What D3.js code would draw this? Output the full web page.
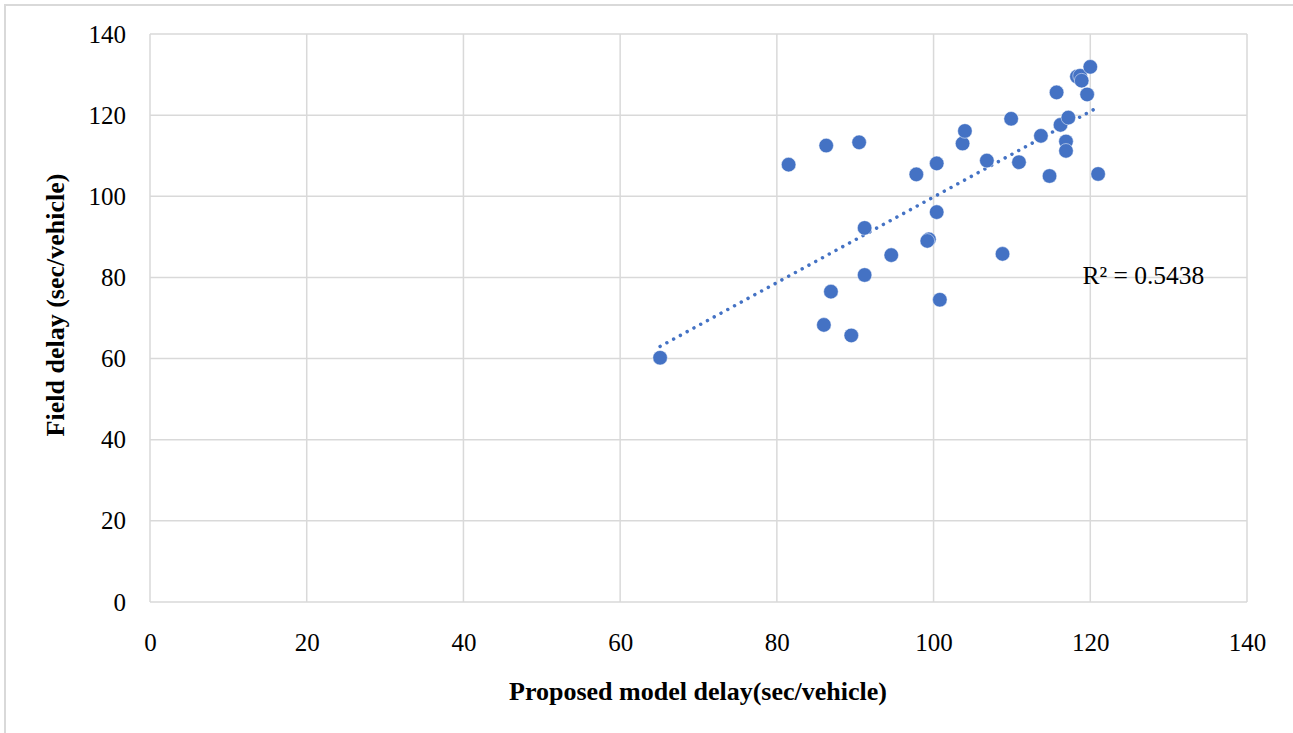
<!DOCTYPE html>
<html>
<head>
<meta charset="utf-8">
<script src="https://cdn.jsdelivr.net/npm/d3@7"></script>
<style>
  body { margin: 0; background: #fff; }
  text { font-family: "Liberation Serif", "Times New Roman", serif; fill: #000; }
</style>
</head>
<body>
<div id="chart"></div>
<script>
// proposed model delay (x) vs field delay (y), sec/vehicle
const modelDelay = [65.1, 81.5, 86.3, 90.5, 86.0, 86.9, 89.5, 91.2, 91.2, 94.6, 97.8, 99.4, 99.2, 100.4, 100.4, 100.8,
  103.7, 104.0, 106.8, 108.8, 109.9, 110.9, 113.7, 114.8, 115.7, 116.2, 116.9, 116.9, 117.2, 118.3, 118.7, 118.9,
  119.6, 120.0, 121.0];
const fieldDelay = [60.2, 107.8, 112.5, 113.3, 68.3, 76.5, 65.7, 80.6, 92.2, 85.5, 105.4, 89.4, 89.0, 108.1, 96.1, 74.5,
  113.0, 116.1, 108.8, 85.8, 119.1, 108.4, 114.9, 105.0, 125.6, 117.6, 113.5, 111.2, 119.4, 129.5, 129.7, 128.5,
  125.1, 131.9, 105.5];
const xTicks = [0, 20, 40, 60, 80, 100, 120, 140];
const yTicks = [0, 20, 40, 60, 80, 100, 120, 140];
const r2Label = 'R² = 0.5438';

const W = 1293, H = 733;
const margin = { left: 150, top: 34, right: 46, bottom: 131 };
const width = W - margin.left - margin.right;
const height = H - margin.top - margin.bottom;

const svg = d3.select('#chart').append('svg')
  .attr('width', W)
  .attr('height', H);

// outer chart frame (only top and left edges visible)
svg.append('path')
  .attr('d', `M5,${H} V5 H${W}`)
  .attr('fill', 'none')
  .attr('stroke', '#d9d9d9')
  .attr('stroke-width', 2);

const x = d3.scaleLinear().domain([0, 140]).range([0, width]);
const y = d3.scaleLinear().domain([0, 140]).range([height, 0]);

const g = svg.append('g')
  .attr('transform', `translate(${margin.left}, ${margin.top})`);

// gridlines
g.append('g').selectAll('line').data(xTicks).join('line')
  .attr('x1', d => x(d)).attr('x2', d => x(d))
  .attr('y1', 0).attr('y2', height)
  .attr('stroke', '#d9d9d9').attr('stroke-width', 1.5);
g.append('g').selectAll('line').data(yTicks).join('line')
  .attr('x1', 0).attr('x2', width)
  .attr('y1', d => y(d)).attr('y2', d => y(d))
  .attr('stroke', '#d9d9d9').attr('stroke-width', 1.5);

// axes (labels only, lines come from the grid)
const xAxis = g.append('g')
  .attr('transform', `translate(0, ${height})`)
  .call(d3.axisBottom(x).tickValues(xTicks).tickSize(0).tickPadding(31));
const yAxis = g.append('g')
  .call(d3.axisLeft(y).tickValues(yTicks).tickSize(0).tickPadding(24));
[xAxis, yAxis].forEach(a => {
  a.select('.domain').remove();
  a.selectAll('text')
    .style('font-family', '"Liberation Serif", serif')
    .style('font-size', '25px')
    .attr('fill', '#000');
});

// least squares trendline
const n = modelDelay.length;
const mx = d3.mean(modelDelay), my = d3.mean(fieldDelay);
let sxy = 0, sxx = 0;
for (let i = 0; i < n; i++) {
  sxy += (modelDelay[i] - mx) * (fieldDelay[i] - my);
  sxx += (modelDelay[i] - mx) ** 2;
}
const slope = sxy / sxx, icpt = my - slope * mx;
const [x0, x1] = d3.extent(modelDelay);

g.append('line')
  .attr('x1', x(x0)).attr('y1', y(icpt + slope * x0))
  .attr('x2', x(x1)).attr('y2', y(icpt + slope * x1))
  .attr('stroke', '#4472c4')
  .attr('stroke-width', 3.5)
  .attr('stroke-linecap', 'round')
  .attr('stroke-dasharray', '0.01 7.7');

// points
g.append('g').selectAll('circle').data(modelDelay).join('circle')
  .attr('cx', d => x(d))
  .attr('cy', (d, i) => y(fieldDelay[i]))
  .attr('r', 7.3)
  .attr('fill', '#4472c4')
  .attr('stroke', '#fff')
  .attr('stroke-width', 0.5);

// R² label
g.append('text')
  .attr('x', x(119.0)).attr('y', y(79.8))
  .attr('dominant-baseline', 'middle')
  .style('font-size', '25.5px')
  .text(r2Label);

// axis titles
svg.append('text')
  .attr('x', 698).attr('y', 700)
  .attr('text-anchor', 'middle')
  .style('font-size', '26px').style('font-weight', 'bold')
  .text('Proposed model delay(sec/vehicle)');
svg.append('text')
  .attr('transform', `translate(64, 305) rotate(-90)`)
  .attr('text-anchor', 'middle')
  .style('font-size', '26px').style('font-weight', 'bold')
  .text('Field delay (sec/vehicle)');
</script>
</body>
</html>
